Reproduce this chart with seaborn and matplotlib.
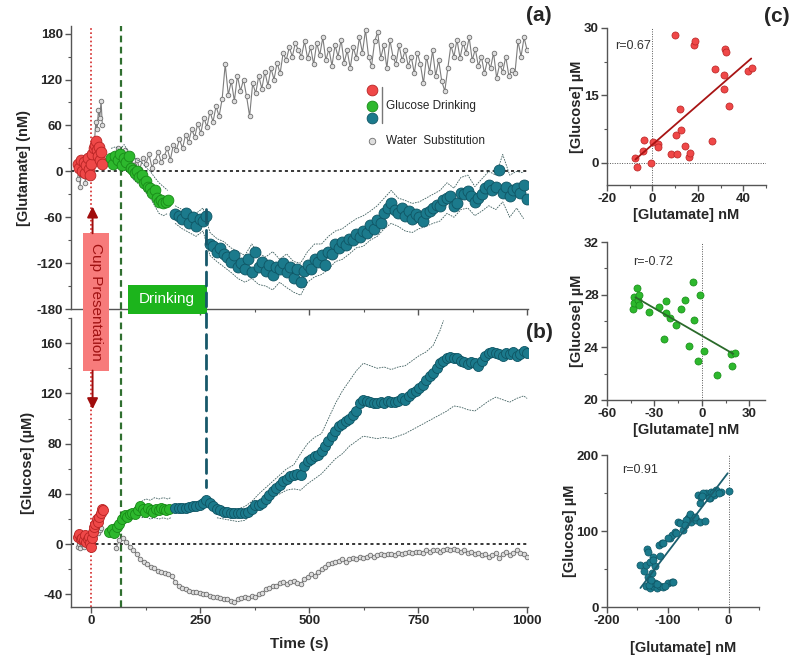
import numpy as np
import matplotlib
matplotlib.use('Agg')
import matplotlib.pyplot as plt
from matplotlib.patches import Rectangle, ConnectionPatch
from matplotlib.ticker import MultipleLocator
import seaborn as sns

sns.set_style('ticks')
plt.rcParams['font.family'] = ['Liberation Sans', 'DejaVu Sans']
plt.rcParams['font.weight'] = 'bold'
plt.rcParams['axes.labelweight'] = 'bold'
plt.rcParams['axes.unicode_minus'] = False

# ---------------- data: panel (a) glutamate (nM) ----------------
gray_a1_t = [-32, -29, -26, -23, -20, -17, -14, -11, -8, -5, -2, 1, 4, 7, 10, 13, 16, 19, 22, 25]
gray_a1 = [-10, 5, -20, 10, -5, 15, -15, 0, 8, -8, 12, 20, 15, 40, 65, 55, 80, 70, 92, 60]
gray_a2_start, gray_a2_step = 55, 7
gray_a2 = [22, 30, 18, 28, 12, 20, 8, 15, 3, 18, 10, 22, 5, 14, 25, 12, 20, 30, 15, 35,
           28, 42, 30, 48, 38, 55, 45, 62, 50, 70, 58, 78, 65, 85, 72, 95, 140, 100, 118, 92,
           125, 105, 120, 98, 72, 115, 102, 125, 108, 130, 112, 135, 120, 142, 128, 155, 145, 162, 150, 168,
           158, 150, 170, 148, 162, 140, 168, 152, 175, 145, 160, 138, 165, 150, 172, 142, 158, 135, 162, 148,
           175, 155, 185, 150, 138, 170, 182, 148, 165, 135, 172, 150, 140, 165, 145, 158, 138, 150, 128, 155,
           140, 115, 150, 130, 158, 125, 145, 118, 105, 135, 165, 150, 172, 148, 168, 155, 175, 145, 160, 138,
           150, 128, 145, 135, 155, 122, 140, 130, 150, 125, 132, 128, 170, 150, 175, 158]

red_a_t = [-32, -28, -25, -22, -18, -15, -12, -9, -6, -3, 0, 2, 5, 8, 10, 13, 16, 18, 20, 22, 25]
red_a = [10, 5, 15, 0, 12, -2, 8, 18, 3, -5, 10, 22, 30, 35, 40, 28, 20, 32, 15, 25, 10]

green_a_t = [45, 50, 55, 60, 65, 70, 75, 80, 85, 90, 95, 100, 105, 110, 115, 120, 125, 130, 135,
             140, 145, 150, 155, 160, 165, 170, 175]
green_a = [18, 10, 20, 15, 22, 8, 18, 12, 20, 5, 2, -2, 0, -8, -5, -15, -12, -20, -22,
           -28, -25, -35, -40, -38, -42, -40, -38]
green_a_band_t = [45, 55, 65, 75, 85, 95, 105, 115, 125, 135, 145, 155, 165, 175]
green_a_hi = [30, 32, 28, 35, 25, 20, 15, 12, 5, 0, -8, -15, -20, -25]
green_a_lo = [8, 5, 10, 2, 0, -10, -15, -20, -28, -35, -45, -55, -58, -55]

teal_start, teal_step = 192, 8
teal_a = [-56, -58, -62, -55, -68, -60, -72, -62, -65, -58, -95, -98, -105, -100, -108, -112, -118, -110,
          -125, -120, -128, -115, -132, -105, -125, -118, -130, -122, -135, -125, -128, -120, -132, -125,
          -140, -128, -145, -130, -122, -128, -115, -118, -110, -122, -105, -108, -95, -100, -92, -96,
          -88, -90, -82, -86, -78, -80, -70, -76, -64, -68, -55, -48, -42, -50, -55, -48, -58, -52,
          -62, -56, -60, -65, -55, -52, -48, -44, -45, -38, -35, -32, -45, -42, -28, -30, -26, -32,
          -40, -35, -30, -22, -18, -25, -20, 2, -28, -20, -32, -25, -22, -28, -18, -36]
teal_a_band_start, teal_a_band_step = 192, 16
teal_a_hi = [-45, -50, -52, -55, -48, -80, -88, -92, -100, -105, -110, -95, -108, -112, -105, -115, -108,
             -118, -120, -105, -95, -95, -85, -78, -75, -68, -62, -58, -52, -45, -35, -25, -35, -38,
             -42, -40, -35, -30, -25, -15, -22, -8, -5, -20, -10, 0, -5, 22, -5, 0, -2]
teal_a_lo = [-68, -75, -80, -85, -78, -110, -118, -125, -132, -140, -145, -140, -148, -150, -155, -145,
             -152, -158, -162, -145, -138, -135, -128, -118, -115, -108, -100, -98, -90, -85, -75, -68,
             -72, -78, -80, -75, -72, -68, -65, -55, -60, -50, -48, -58, -52, -45, -50, -40, -60, -48, -62]

# ---------------- data: panel (b) glucose (uM) ----------------
gray_b1_t = [-32, -29, -26, -23, -20, -17, -14, -11, -8, -5, -2, 1, 4, 7, 10, 13, 16, 19, 22]
gray_b1 = [-2, 0, -3, 1, -1, -2, 0, 2, -1, 0, 1, 3, 5, 8, 10, 12, 9, 11, 13]
gray_b2_start, gray_b2_step = 56, 8
gray_b2 = [-3, 3, 5, 2, -2, -5, -8, -12, -14, -16, -18, -19, -21, -22, -23, -24, -25, -30, -33, -35,
           -36, -37, -38, -38, -39, -40, -40, -41, -42, -42, -43, -44, -44, -45, -46, -44, -43, -42, -43, -41,
           -42, -40, -39, -36, -35, -33, -33, -31, -30, -32, -30, -29, -31, -32, -28, -26, -24, -25, -22, -20,
           -18, -16, -15, -14, -13, -12, -14, -12, -11, -12, -10, -11, -10, -9, -10, -9, -8, -9, -8, -8,
           -9, -7, -8, -7, -6, -7, -6, -6, -7, -5, -6, -5, -5, -6, -5, -4, -5, -4, -5, -6,
           -5, -7, -6, -8, -7, -9, -8, -10, -9, -7, -11, -8, -6, -9, -7, -5, -7, -8, -10]

red_b_t = [-32, -28, -25, -22, -18, -15, -12, -9, -6, -3, 0, 2, 4, 6, 9, 12, 15, 18, 21, 24, 27]
red_b = [6, 8, 4, 5, 3, 7, 2, 4, 6, 1, -2, 5, 10, 14, 16, 20, 18, 22, 25, 28, 27]

green_b_t = [40, 46, 52, 58, 64, 70, 76, 82, 88, 94, 100, 106, 112, 118, 124, 130, 136, 142,
             148, 154, 160, 166, 172, 178]
green_b = [10, 12, 9, 14, 16, 20, 23, 22, 24, 25, 24, 27, 30, 28, 26, 29, 27, 26, 28, 27, 29, 28, 27, 28]
green_b_band_t = [115, 125, 135, 145, 155, 165, 175, 182]
green_b_hi = [34, 36, 35, 37, 36, 37, 36, 37]
green_b_lo = [21, 22, 20, 21, 20, 21, 20, 21]

teal_b = [29, 29, 28.5, 29, 29.5, 30, 30.5, 31, 33, 35, 33, 30, 28, 27, 26, 25.5, 25, 25, 24.5, 24.5,
          25, 26, 28, 31, 31, 33, 36, 39, 42, 45, 47, 50, 52, 54, 55, 56, 55, 62, 66, 68,
          70, 71, 74, 78, 82, 86, 90, 94, 96, 98, 100, 103, 106, 112, 115, 114, 113, 112, 112, 113,
          112, 114, 113, 113, 114, 116, 115, 118, 120, 122, 124, 127, 131, 134, 136, 140, 144, 146, 148, 149,
          148, 148, 146, 145, 143, 145, 144, 142, 146, 150, 152, 153, 152, 151, 150, 152, 151, 153, 150, 151,
          154, 152]
teal_b_hi_t = [288, 304, 320, 336, 352, 368, 384, 400, 416, 432, 448, 464, 480, 496, 512, 528, 544, 560,
               576, 592, 608, 624, 640, 656, 672, 688, 704, 720, 736, 752, 768, 784, 800, 808]
teal_b_hi = [30, 29, 28, 28, 30, 34, 40, 45, 50, 55, 60, 63, 72, 80, 85, 88, 100, 112,
             122, 130, 138, 144, 142, 140, 141, 139, 141, 142, 146, 150, 153, 158, 170, 178]
teal_b_lo_t = [288, 304, 320, 336, 352, 368, 384, 400, 416, 432, 448, 464, 480, 496, 512, 528, 544, 560,
               576, 592, 608, 624, 640, 656, 672, 688, 704, 720, 736, 752, 768, 784, 800, 816, 832, 848,
               864, 880, 896, 912, 928, 944, 960, 976, 992, 1000]
teal_b_lo = [21, 20, 19, 18, 19, 24, 30, 35, 38, 40, 43, 44, 43, 48, 52, 56, 62, 68,
             72, 78, 82, 86, 85, 84, 85, 84, 86, 88, 91, 94, 97, 100, 103, 106, 110, 109,
             107, 106, 110, 114, 117, 115, 113, 116, 118, 116]

# ---------------- data: panel (c) correlations ----------------
c1_glu = [-7.6, -6.8, -4.1, -3.6, -0.7, 0.3, 2.4, 2.5, 8.0, 10.2, 9.9, 11.0, 12.0, 12.4, 14.2, 16.1,
          16.6, 18.1, 18.8, 26.2, 27.7, 31.7, 31.6, 32.1, 32.6, 33.8, 42.2, 43.7]
c1_glc = [1.1, -0.9, 2.6, 5.0, -0.2, 4.6, 4.1, 3.5, 2.0, 6.1, 28.4, 2.0, 12.0, 7.3, 3.8, 1.2,
          2.2, 26.1, 27.0, 4.9, 20.8, 19.6, 16.4, 25.3, 24.6, 12.6, 20.5, 21.0]
c1_fit_x, c1_fit_y = [-7.5, 43.5], [0.7, 23.2]

c2_glu = [-43.4, -43.0, -43.0, -41.3, -40.3, -39.6, -39.6, -33.3, -27.4, -23.7, -22.4, -22.4, -20.3,
          -16.1, -13.4, -10.5, -7.9, -5.7, -5.2, -2.1, -1.4, 1.1, 9.9, 18.7, 19.1, 21.0]
c2_glc = [26.9, 27.8, 27.4, 28.5, 27.6, 28.0, 27.2, 26.7, 27.1, 24.6, 27.5, 26.6, 26.2,
          25.7, 26.9, 27.6, 24.1, 29.0, 26.1, 23.0, 28.0, 23.7, 21.9, 23.5, 22.6, 23.6]
c2_fit_x, c2_fit_y = [-42, 20], [27.8, 23.5]

c3_glu = [-135.7, -129, -123.7, -118, -113, -107.5, -99.3, -93.8, -129, -121, -132, -126, -145.4,
          -138.4, -135.7, -129, -121, -123.7, -134.5, -132, -113, -114, -110, -96.6, -93.8, -88.4,
          -83, -80.3, -66.8, -64, -61.2, -58.6, -53, -47.7, -39.6, -64, -47.7, -50.5, -45, -36.8,
          -28.7, -23.3, -20.5, -31.4, -42.3, -12.4, 1.1, -69.4, -75, -85.7, -99.3, -107.5,
          -131, -127, -117, -104, -125, -56, -44, -33, -26, -16, -72, -92]
c3_glc = [27, 24.9, 27, 24.9, 27, 26, 31.4, 32.3, 33.6, 31.4, 40, 44.5, 55.4,
          48, 55.4, 59.8, 54, 66.3, 76, 72.9, 67.2, 81.7, 83.9, 90.4, 94.8, 99.1,
          112.2, 110, 116.6, 121, 112, 116.6, 114.4, 112, 113.5, 123, 136.3, 147, 145, 149.4,
          151.5, 147, 153.7, 142.9, 149.4, 151.5, 152.4, 114.4, 101.3, 97, 90.4, 84,
          29, 36, 30, 28, 62, 118, 146, 144, 150, 150, 108, 33]
c3_fit_x, c3_fit_y = [-145, -1.5], [25, 176]

# ---------------- styles ----------------
RED, RED_E = '#ef4848', '#b82424'
GREEN, GREEN_E = '#2db82d', '#188a18'
TEAL, TEAL_E = '#1b7a8c', '#0f5564'
GRAY_F, GRAY_E, GRAY_L = '#dedede', '#6e6e6e', '#7d7d7d'
BAND = '#3f5f5f'
SPINE = '#555555'


def rect(l, t, r, b):
    return [l / 800, 1 - b / 667, (r - l) / 800, (b - t) / 667]


def style_axis(ax):
    sns.despine(ax=ax)
    for s in ['left', 'bottom']:
        ax.spines[s].set_color(SPINE)
        ax.spines[s].set_linewidth(1.0)
    ax.tick_params(which='major', length=4, width=1, color=SPINE, labelsize=9.5, pad=2)
    ax.tick_params(which='minor', length=2.5, width=0.8, color=SPINE)
    for lab in ax.get_xticklabels() + ax.get_yticklabels():
        lab.set_fontweight('bold')


def gray_series(ax, t, y):
    sns.lineplot(x=t, y=y, ax=ax, color=GRAY_L, lw=0.8, marker='o', markersize=3.3,
                 markerfacecolor=GRAY_F, markeredgecolor=GRAY_E, markeredgewidth=0.6,
                 estimator=None, sort=False, zorder=2)


def band(ax, t, y):
    sns.lineplot(x=t, y=y, ax=ax, color=BAND, lw=0.6, linestyle=(0, (2, 1.2)),
                 estimator=None, sort=False, zorder=2)


def dots(ax, t, y, c, e, s=48):
    sns.scatterplot(x=t, y=y, ax=ax, color=c, edgecolor=e, s=s, linewidth=0.6, zorder=4)


fig = plt.figure(figsize=(8, 6.67), dpi=100)
ax_a = fig.add_axes(rect(71, 26, 528, 309))
ax_b = fig.add_axes(rect(71, 318, 528, 607))
ax_a.set_zorder(3)
ax_a.patch.set_alpha(0)

# ---- panel (a)
t_gray_a2 = gray_a2_start + gray_a2_step * np.arange(len(gray_a2))
t_teal = teal_start + teal_step * np.arange(len(teal_a))
t_teal_band = teal_a_band_start + teal_a_band_step * np.arange(len(teal_a_hi))

gray_series(ax_a, gray_a1_t, gray_a1)
gray_series(ax_a, t_gray_a2, gray_a2)
band(ax_a, green_a_band_t, green_a_hi)
band(ax_a, green_a_band_t, green_a_lo)
band(ax_a, t_teal_band, teal_a_hi)
band(ax_a, t_teal_band, teal_a_lo)
dots(ax_a, red_a_t, red_a, RED, RED_E, 60)
dots(ax_a, green_a_t, green_a, GREEN, GREEN_E, 60)
dots(ax_a, t_teal, teal_a, TEAL, TEAL_E, 62)
ax_a.axhline(0, color='black', lw=1.1, ls=(0, (2, 2)), zorder=1)

ax_a.set_xlim(-47, 1002)
ax_a.set_ylim(-180, 190)
ax_a.set_yticks([-180, -120, -60, 0, 60, 120, 180])
ax_a.yaxis.set_minor_locator(MultipleLocator(30))
ax_a.set_xticks([0, 250, 500, 750, 1000])
ax_a.xaxis.set_minor_locator(MultipleLocator(125))
ax_a.set_xticklabels([])
ax_a.set_xlabel('')
ax_a.set_ylabel('[Glutamate] (nM)', fontsize=10.5, fontweight='bold', labelpad=4)
style_axis(ax_a)

# ---- panel (b)
t_gray_b2 = gray_b2_start + gray_b2_step * np.arange(len(gray_b2))
t_teal_b = teal_start + teal_step * np.arange(len(teal_b))

gray_series(ax_b, gray_b1_t, gray_b1)
gray_series(ax_b, t_gray_b2, gray_b2)
band(ax_b, green_b_band_t, green_b_hi)
band(ax_b, green_b_band_t, green_b_lo)
band(ax_b, teal_b_hi_t, teal_b_hi)
band(ax_b, teal_b_lo_t, teal_b_lo)
dots(ax_b, red_b_t, red_b, RED, RED_E, 52)
dots(ax_b, green_b_t, green_b, GREEN, GREEN_E, 52)
dots(ax_b, t_teal_b, teal_b, TEAL, TEAL_E, 52)
ax_b.axhline(0, color='black', lw=1.1, ls=(0, (2, 2)), zorder=1)

ax_b.set_xlim(-47, 1002)
ax_b.set_ylim(-50, 180)
ax_b.set_yticks([-40, 0, 40, 80, 120, 160])
ax_b.yaxis.set_minor_locator(MultipleLocator(20))
ax_b.set_xticks([0, 250, 500, 750, 1000])
ax_b.xaxis.set_minor_locator(MultipleLocator(125))
ax_b.set_xlabel('Time (s)', fontsize=11, fontweight='bold', labelpad=7)
ax_b.set_ylabel('[Glucose] (µM)', fontsize=10.5, fontweight='bold', labelpad=4)
style_axis(ax_b)

# ---- event markers across (a) and (b)
for ax in (ax_a, ax_b):
    top = 1.035 if ax is ax_b else 1.0
    ax.axvline(0, ymax=top, color='#d42a2a', lw=1.2, ls=(0, (1, 1.5)), clip_on=False, zorder=1)
    ax.axvline(68, ymax=top, color='#2f6f2f', lw=1.6, ls=(0, (3, 2)), clip_on=False, zorder=1)

con = ConnectionPatch(xyA=(264, -50), coordsA=ax_a.transData, xyB=(264, 45), coordsB=ax_b.transData,
                      color='#17586a', lw=2.0, linestyle=(0, (5, 2.5)), zorder=5)
fig.add_artist(con)

# Cup presentation box + arrows
ax_a.add_patch(Rectangle((-19.5, -260.5), 59.5, 179.5, facecolor='#f77b7b', edgecolor='none',
                         clip_on=False, zorder=6))
ax_a.text(10, -171, 'Cup Presentation', rotation=270, ha='center', va='center', fontsize=11,
          fontweight='normal', color='#a01212', zorder=7)
ax_a.annotate('', xy=(2.5, -46), xytext=(2.5, -81), annotation_clip=False, zorder=7,
              arrowprops=dict(arrowstyle='-|>', color='#a00c0c', lw=1.4, mutation_scale=16,
                              shrinkA=0, shrinkB=0))
ax_a.annotate('', xy=(2.5, -311), xytext=(2.5, -260.5), annotation_clip=False, zorder=7,
              arrowprops=dict(arrowstyle='-|>', color='#a00c0c', lw=1.4, mutation_scale=16,
                              shrinkA=0, shrinkB=0))

# Drinking box
ax_a.add_patch(Rectangle((83, -187), 181.5, 39, facecolor='#1cb41c', edgecolor='none',
                         clip_on=False, zorder=6))
ax_a.text(173, -167.5, 'Drinking', ha='center', va='center', fontsize=11, fontweight='normal',
          color='white', zorder=7)

# manual legend in (a)
tr = ax_a.transAxes
for yy, c, e in [(0.774, RED, RED_E), (0.717, GREEN, GREEN_E), (0.675, TEAL, TEAL_E)]:
    ax_a.scatter([0.658], [yy], transform=tr, s=60, color=c, edgecolor=e, linewidth=0.6, zorder=6)
ax_a.scatter([0.658], [0.595], transform=tr, s=22, color=GRAY_F, edgecolor=GRAY_E, linewidth=0.6, zorder=6)
ax_a.plot([0.680, 0.680], [0.657, 0.784], transform=tr, color='#777777', lw=1.0)
ax_a.text(0.689, 0.717, 'Glucose Drinking', transform=tr, va='center', fontsize=8.5, fontweight='normal')
ax_a.text(0.689, 0.595, 'Water  Substitution', transform=tr, va='center', fontsize=8.5, fontweight='normal')

# panel letters
fig.text(0.674, 0.977, '(a)', ha='center', va='center', fontsize=15, fontweight='bold')
fig.text(0.674, 0.501, '(b)', ha='center', va='center', fontsize=15, fontweight='bold')
fig.text(0.971, 0.975, '(c)', ha='center', va='center', fontsize=15, fontweight='bold')

# ---- panel (c) scatter plots
c_axes = [fig.add_axes(rect(607, 28, 766, 185)),
          fig.add_axes(rect(607, 242, 765, 400)),
          fig.add_axes(rect(607, 455, 759, 607))]
c_data = [(c1_glu, c1_glc, c1_fit_x, c1_fit_y, RED, RED_E, '#a81414', 'r=0.67', 0.05, 0.885),
          (c2_glu, c2_glc, c2_fit_x, c2_fit_y, GREEN, GREEN_E, '#2a6a2a', 'r=-0.72', 0.165, 0.873),
          (c3_glu, c3_glc, c3_fit_x, c3_fit_y, TEAL, TEAL_E, '#1a5e6e', 'r=0.91', 0.097, 0.90)]
c_lims = [((-20, 50), (-5, 30), [-20, 0, 20, 40], 10, [0, 15, 30], 7.5, 2),
          ((-60, 40), (20, 32), [-60, -30, 0, 30], 15, [20, 24, 28, 32], 2, 2),
          ((-200, 50), (0, 200), [-200, -100, 0], 50, [0, 100, 200], 50, 10)]

for ax, (gx, gy, fx, fy, c, e, lc, rtxt, rx, ry), (xl, yl, xt, xm, yt, ym, lp) in zip(c_axes, c_data, c_lims):
    ax.axvline(0, color='#555555', lw=0.7, ls=(0, (1, 1.5)), zorder=1)
    if yl[0] < 0:
        ax.axhline(0, color='#555555', lw=0.7, ls=(0, (1, 1.5)), zorder=1)
    sns.scatterplot(x=gx, y=gy, ax=ax, color=c, edgecolor=e, s=26, linewidth=0.5, zorder=3)
    sns.lineplot(x=fx, y=fy, ax=ax, color=lc, lw=1.3, estimator=None, sort=False, zorder=4)
    ax.text(rx, ry, rtxt, transform=ax.transAxes, va='center', fontsize=9, fontweight='normal',
            color='#333333')
    ax.set_xlim(*xl)
    ax.set_ylim(*yl)
    ax.set_xticks(xt)
    ax.xaxis.set_minor_locator(MultipleLocator(xm))
    ax.set_yticks(yt)
    ax.yaxis.set_minor_locator(MultipleLocator(ym))
    ax.set_xlabel('[Glutamate] nM', fontsize=10.5, fontweight='bold', labelpad=lp)
    ax.set_ylabel('[Glucose] µM', fontsize=10.5, fontweight='bold', labelpad=0)
    style_axis(ax)

fig.savefig('out.png', dpi=100)
